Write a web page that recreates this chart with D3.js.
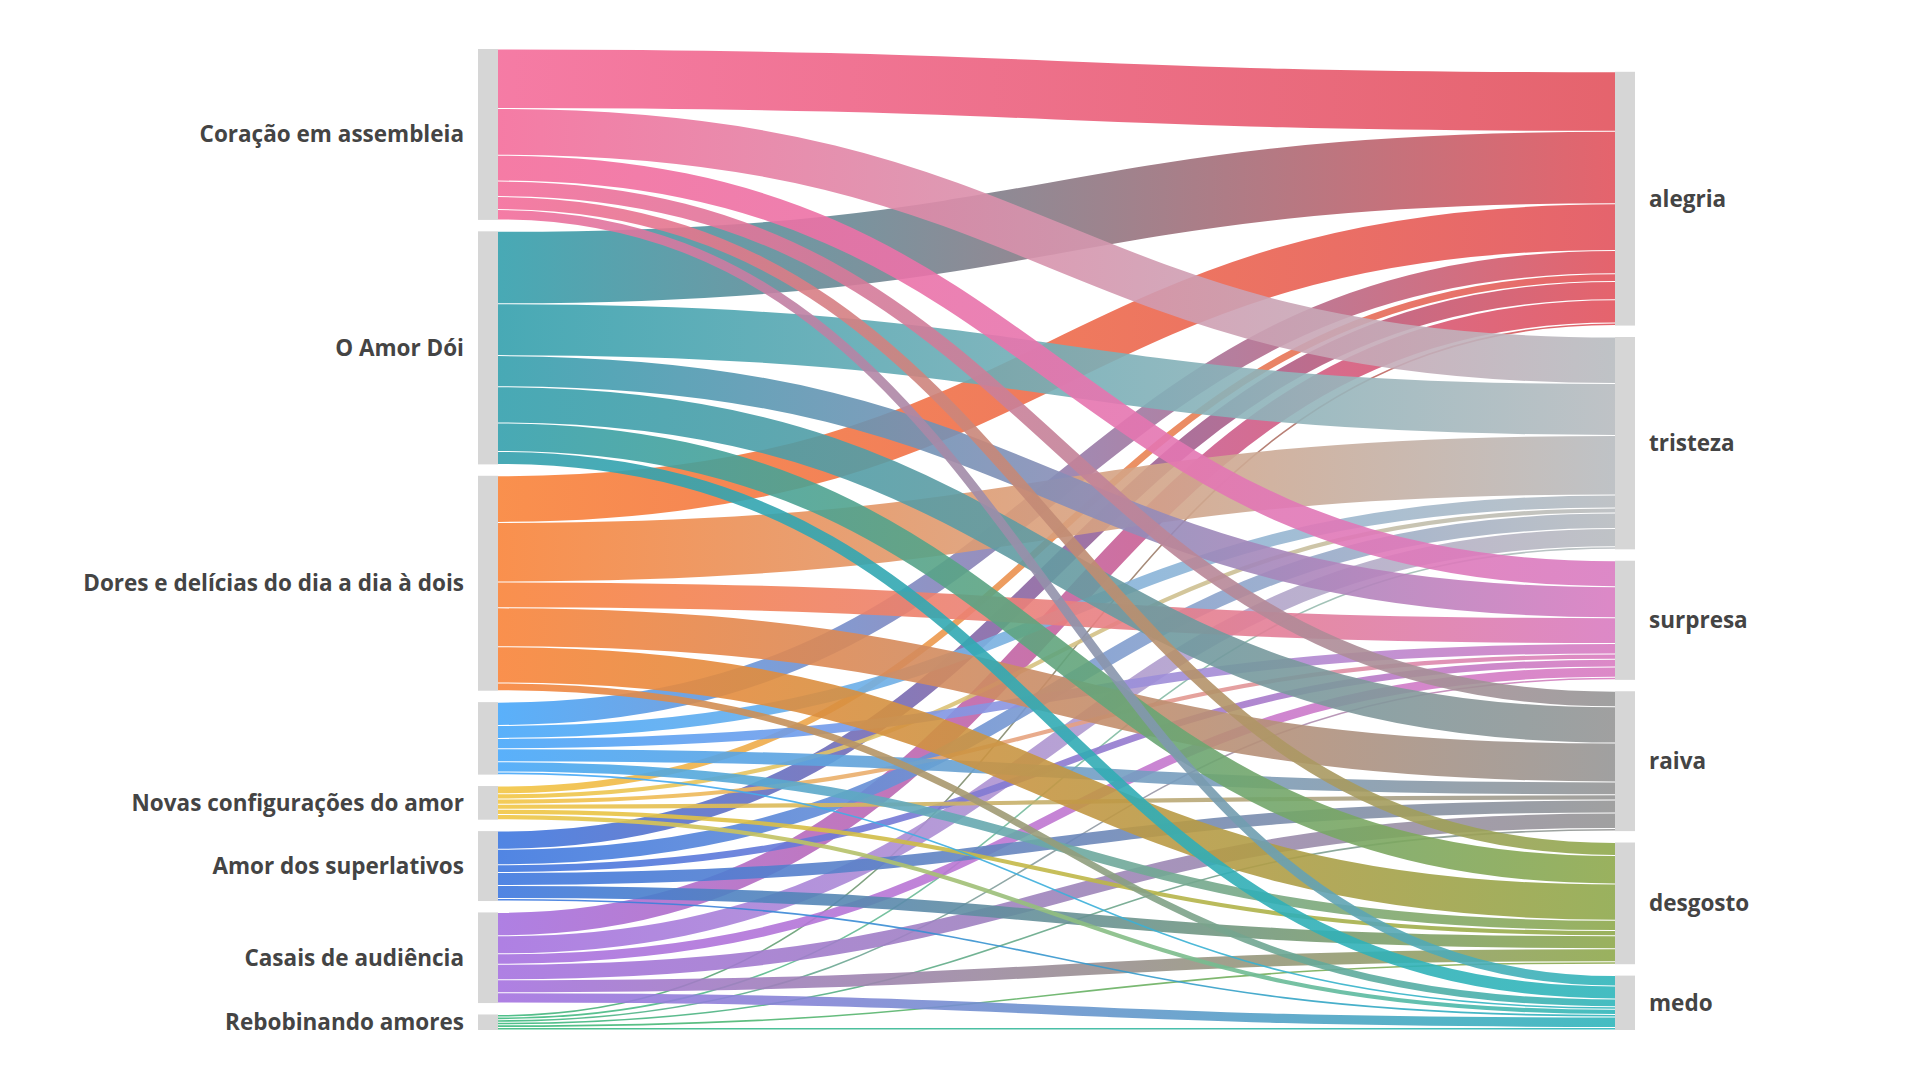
<!DOCTYPE html>
<html>
<head>
<meta charset="utf-8">
<script src="https://cdn.jsdelivr.net/npm/d3@7"></script>
<style>
  body { margin: 0; background: #fff; }
  text { font-family: "Open Sans", sans-serif; font-weight: 700; fill: #444; font-size: 22.5px; }
</style>
</head>
<body>
<div id="chart"></div>
<script>
// Left column (themes); the 4th node has no label in the original
const sources = ["Coração em assembleia", "O Amor Dói", "Dores e delícias do dia a dia à dois", "",
  "Novas configurações do amor", "Amor dos superlativos", "Casais de audiência", "Rebobinando amores"];
// Right column (emotions)
const targets = ["alegria", "tristeza", "surpresa", "raiva", "desgosto", "medo"];

// one value per emotion, same order as targets
const coracao      = [23, 18, 10, 6, 5, 4];
const amorDoi      = [28, 20, 12, 14, 11, 5];
const dores        = [18, 23, 10, 15, 14, 3];
const semRotulo    = [9, 5, 4, 5, 4, 1];
const novas        = [3, 2, 2, 2, 2, 2];
const superlativos = [7, 6, 3, 5, 5, 1];
const casais       = [9, 7, 4, 6, 5, 4];
const rebobinando  = [1, 1, 1, 1, 1, 1];

const sourceColors = ["#f46d9b", "#34a0ad", "#f9843a", "#48a8fa", "#f2c644", "#3e78e0", "#a672e0", "#3cba7e"];
const targetColors = ["#e2535d", "#b8bcc0", "#d97cc1", "#969696", "#8fa94d", "#30b6bb"];

const values = [coracao, amorDoi, dores, semRotulo, novas, superlativos, casais, rebobinando];

var width = 1920, height = 1080;
var ext = { y0: 49, y1: 1030 },
    nodeWidth = 20, nodePad = 11.4,
    leftX = 478, rightX = 1615;

var svg = d3.select("#chart").append("svg")
    .attr("width", width)
    .attr("height", height);

var srcTotals = values.map(r => d3.sum(r));
var tgtTotals = targets.map((t, j) => d3.sum(values, r => r[j]));
var total = d3.sum(srcTotals);

// value -> pixels, limited by the busier column
var avail = Math.min(
    (ext.y1 - ext.y0) - (sources.length - 1) * nodePad,
    (ext.y1 - ext.y0) - (targets.length - 1) * nodePad);
var h = d3.scaleLinear().domain([0, total]).range([0, avail]);

// left nodes from the top
var leftNodes = [];
var y = ext.y0;
sources.forEach((name, i) => {
    leftNodes.push({ name: name, x0: leftX, y0: y, y1: y + h(srcTotals[i]) });
    y += h(srcTotals[i]) + nodePad;
});

// right nodes sit on the bottom edge
var rightNodes = [];
y = ext.y1 - (h(total) + (targets.length - 1) * nodePad);
targets.forEach((name, j) => {
    rightNodes.push({ name: name, x0: rightX, y0: y, y1: y + h(tgtTotals[j]) });
    y += h(tgtTotals[j]) + nodePad;
});

// links grouped by target (this is also the drawing order)
var links = [];
targets.forEach((t, j) => {
    values.forEach((row, i) => {
        if (!row[j]) return;
        links.push({ i: i, j: j, value: row[j], w: h(row[j]) });
    });
});

// source side: ordered by target; target side: ordered by source
var srcOffset = leftNodes.map(n => n.y0);
var tgtOffset = rightNodes.map(n => n.y0);
links.forEach(l => {
    l.sy = srcOffset[l.i] + l.w / 2; srcOffset[l.i] += l.w;
    l.ty = tgtOffset[l.j] + l.w / 2; tgtOffset[l.j] += l.w;
});

var defs = svg.append("defs");
links.forEach((l, k) => {
    var g = defs.append("linearGradient")
        .attr("id", "grad" + k)
        .attr("gradientUnits", "userSpaceOnUse")
        .attr("x1", leftX + nodeWidth)
        .attr("x2", rightX);
    g.append("stop").attr("offset", "0%").attr("stop-color", sourceColors[l.i]);
    g.append("stop").attr("offset", "100%").attr("stop-color", targetColors[l.j]);
});

var linkPath = d3.linkHorizontal();

svg.append("g")
    .attr("fill", "none")
    .selectAll("path")
    .data(links)
    .enter()
    .append("path")
    .attr("d", l => linkPath({ source: [leftX + nodeWidth, l.sy], target: [rightX, l.ty] }))
    .attr("stroke", (l, k) => "url(#grad" + k + ")")
    .attr("stroke-width", l => Math.max(1, l.w - 1))
    .attr("stroke-opacity", 0.9);

// gray node bars
svg.append("g")
    .selectAll("rect")
    .data(leftNodes.concat(rightNodes))
    .enter()
    .append("rect")
    .attr("x", d => d.x0)
    .attr("y", d => d.y0)
    .attr("width", nodeWidth)
    .attr("height", d => d.y1 - d.y0)
    .attr("fill", "#d6d6d6");

// labels
svg.append("g")
    .selectAll("text")
    .data(leftNodes)
    .enter()
    .append("text")
    .attr("x", d => d.x0 - 14)
    .attr("y", d => (d.y0 + d.y1) / 2)
    .attr("dy", "0.35em")
    .attr("text-anchor", "end")
    .text(d => d.name);

svg.append("g")
    .selectAll("text")
    .data(rightNodes)
    .enter()
    .append("text")
    .attr("x", d => d.x0 + nodeWidth + 14)
    .attr("y", d => (d.y0 + d.y1) / 2)
    .attr("dy", "0.35em")
    .text(d => d.name);
</script>
</body>
</html>
